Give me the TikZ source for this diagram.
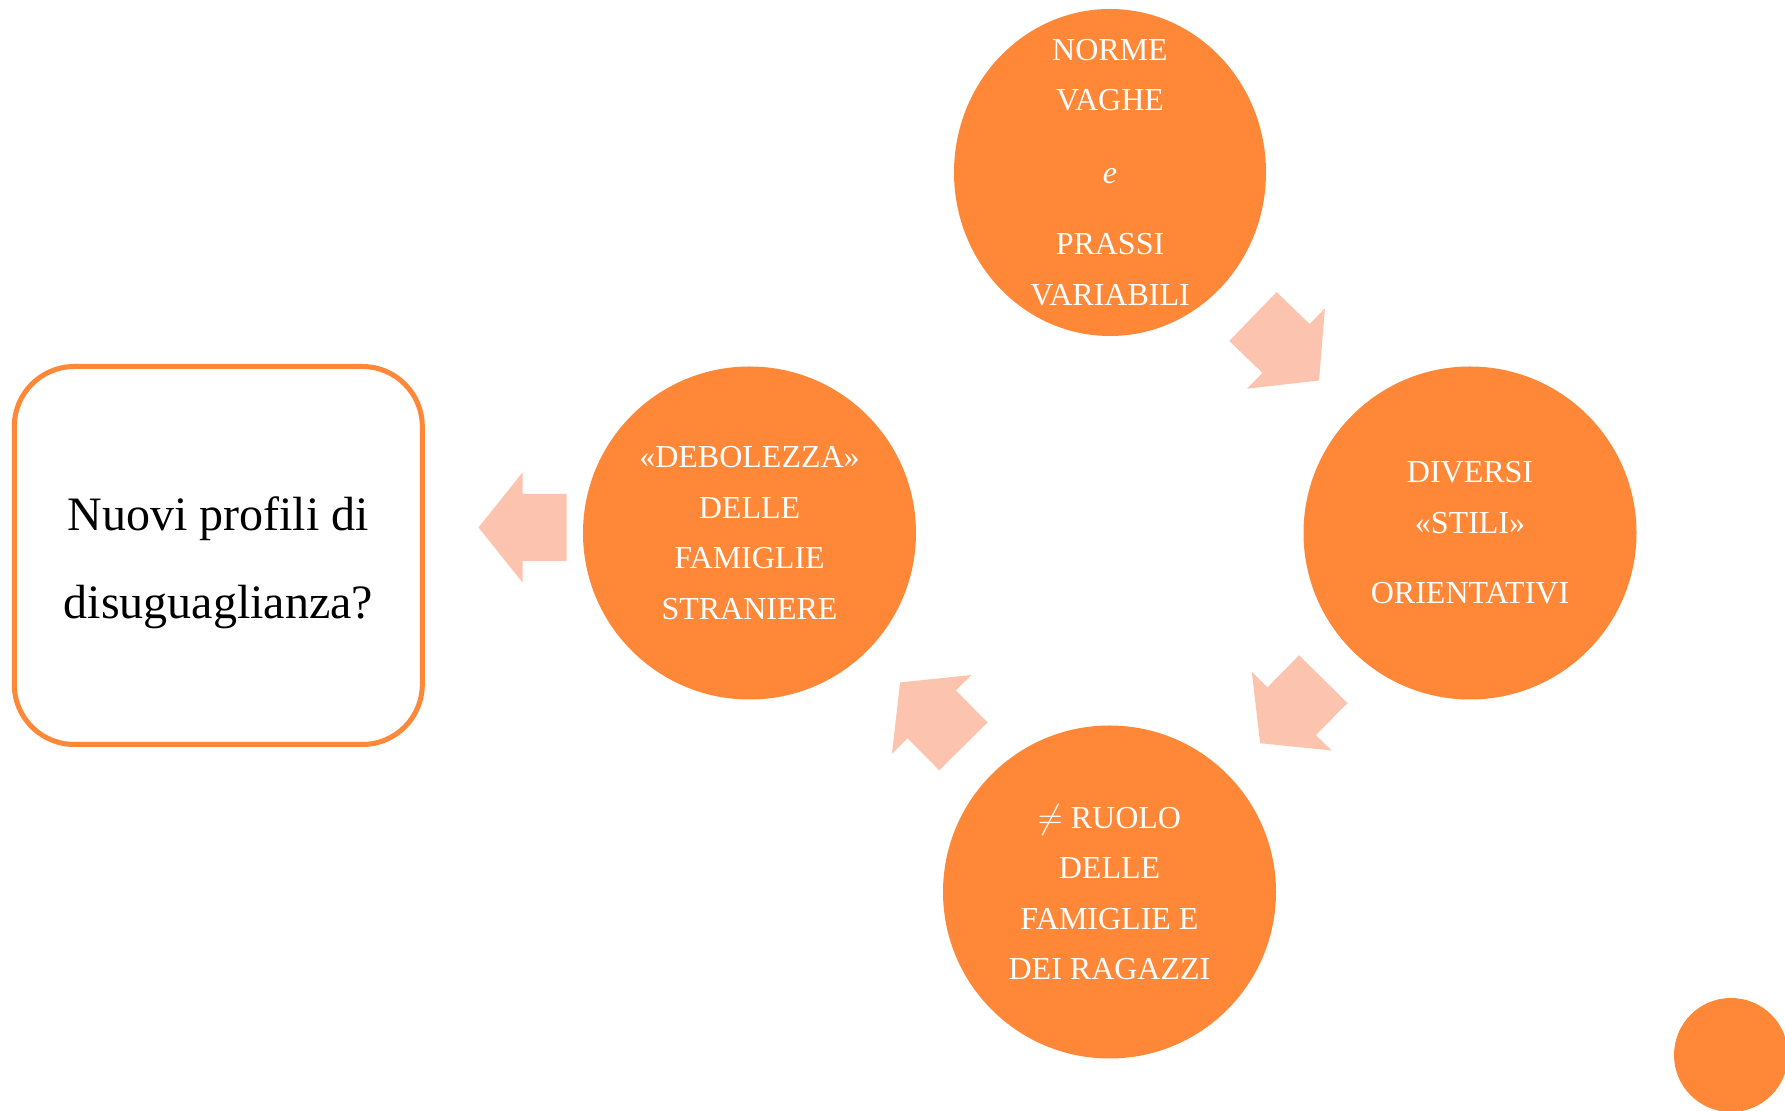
\documentclass[tikz,border=0pt]{standalone}
\usepackage{fontspec}
\setmainfont{Liberation Serif}
\usetikzlibrary{shapes.geometric}
\definecolor{flameorange}{RGB}{255,136,56}
\definecolor{peach}{RGB}{252,195,175}

\begin{document}
\begin{tikzpicture}[x=0.5pt, y=-0.5pt,
  blob/.style={circle, fill=flameorange, text=white, align=center, minimum size=166.5pt, inner sep=0pt, font=\fontsize{16}{25.25}\selectfont},
  topblob/.style={blob, ellipse, minimum width=156pt, minimum height=163.5pt, inner sep=-12pt},
  question/.style={draw=flameorange, line width=2.5pt, rounded corners=30pt, align=center, minimum width=204pt, minimum height=189pt, font=\fontsize{24}{44}\selectfont},
  blockarrow/.style={fill=peach}
]
\useasboundingbox (0,0) rectangle (1785,1111);
\node[topblob] (norme) at (1110,172.5) {NORME\\VAGHE\\[11pt]\textit{e}\\[10.5pt]PRASSI\\VARIABILI};
\node[blob] (stili) at (1470,533) {DIVERSI\\«STILI»\\[10pt]ORIENTATIVI};
\node[blob] (ruolo) at (1109.5,892) {$\neq$ RUOLO\\DELLE\\FAMIGLIE E\\DEI RAGAZZI};
\node[blob] (debolezza) at (749.5,533) {«DEBOLEZZA»\\DELLE\\FAMIGLIE\\STRANIERE};
\node[question] (profili) at (218.3,555.5) {\rule{0pt}{24pt}Nuovi profili di\\disuguaglianza?};
\fill[flameorange] (1731,1055) circle (57);
% block arrows between the circles
\fill[blockarrow, shift={(1286,348.5)}, rotate=-44.1] (-46,34) -- (0,34) -- (0,56) -- (46,0) -- (0,-56) -- (0,-34) -- (-46,-34) -- cycle;
\fill[blockarrow, shift={(1291.7,711.2)}, rotate=-134.6] (-45,34) -- (0,34) -- (0,56) -- (45,0) -- (0,-56) -- (0,-34) -- (-45,-34) -- cycle;
\fill[blockarrow, shift={(931.75,714.4)}, rotate=134.7] (-45,34) -- (0,34) -- (0,56) -- (45,0) -- (0,-56) -- (0,-34) -- (-45,-34) -- cycle;
\fill[blockarrow, shift={(522.5,527.5)}, rotate=180] (-44,33.5) -- (0,33.5) -- (0,55) -- (44,0) -- (0,-55) -- (0,-33.5) -- (-44,-33.5) -- cycle;
\end{tikzpicture}
\end{document}
